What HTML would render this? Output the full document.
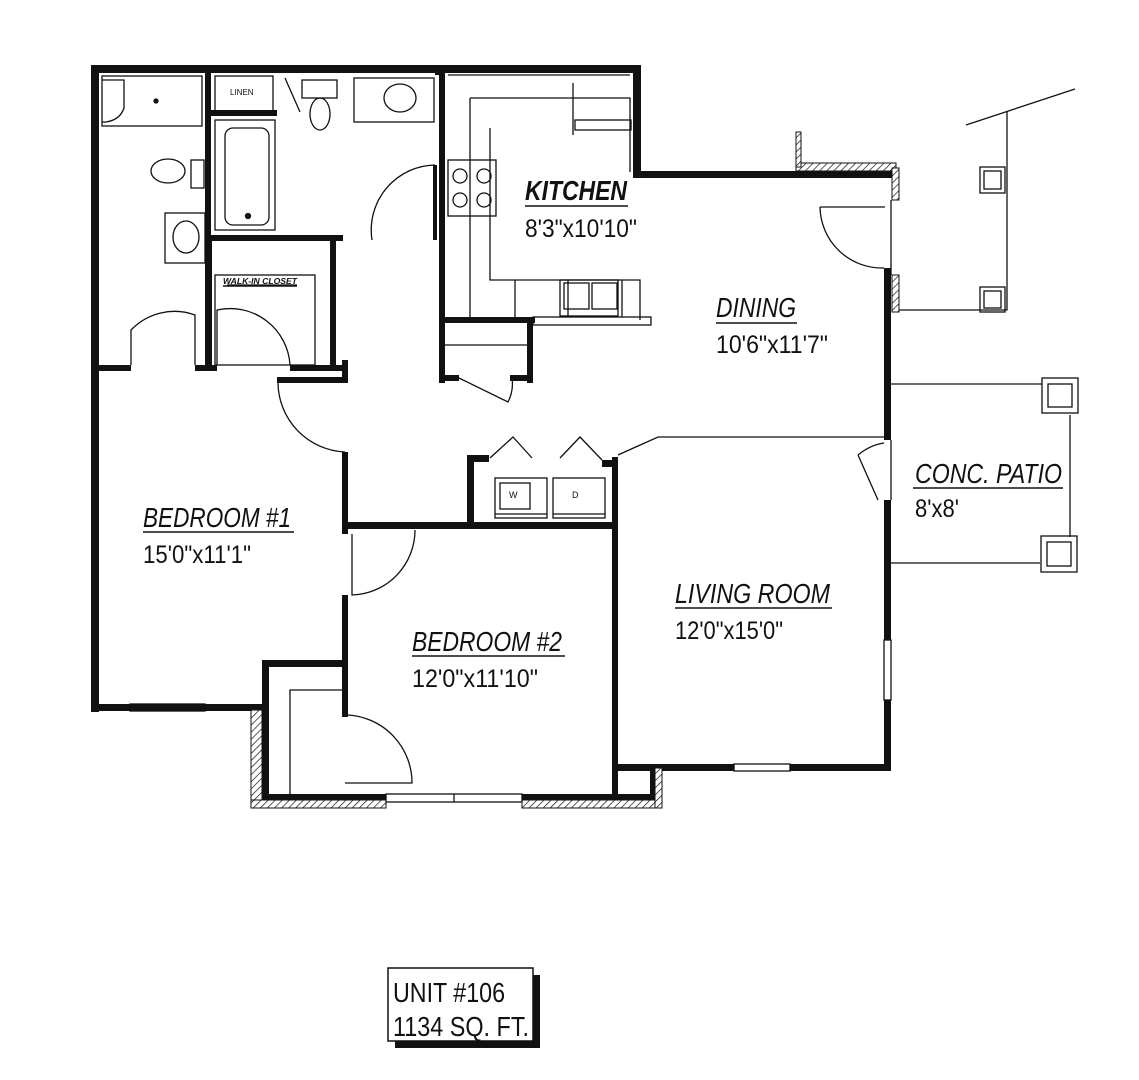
<!DOCTYPE html>
<html><head><meta charset="utf-8"><style>
html,body{margin:0;padding:0;background:#fff;}
svg{display:block}
text{font-family:"Liberation Sans",sans-serif;fill:#111}
</style></head><body>
<svg width="1139" height="1080" viewBox="0 0 1139 1080" xmlns="http://www.w3.org/2000/svg">
<defs>
<pattern id="h" width="5" height="5" patternUnits="userSpaceOnUse" patternTransform="rotate(45)"><rect width="5" height="5" fill="#fff"/><line x1="0" y1="0" x2="0" y2="5" stroke="#111" stroke-width="1.4"/></pattern>
</defs>
<g fill="#111">
<rect x="91" y="65" width="550" height="8"/>
<rect x="633" y="65" width="8" height="112"/>
<rect x="633" y="171" width="260" height="7"/>
<rect x="91" y="65" width="8" height="647"/>
<rect x="91" y="704" width="174" height="7"/>
<rect x="884" y="268" width="7" height="172"/>
<rect x="884" y="500" width="7" height="140"/>
<rect x="884" y="700" width="7" height="70"/>
<rect x="612" y="764" width="122" height="7"/>
<rect x="790" y="764" width="101" height="7"/>
<rect x="612" y="457" width="6" height="345"/>
<rect x="612" y="764" width="45" height="7"/>
<rect x="650" y="764" width="7" height="38"/>
<rect x="258" y="794" width="128" height="8"/>
<rect x="522" y="794" width="135" height="8"/>
<rect x="262" y="660" width="7" height="140"/>
<rect x="262" y="660" width="86" height="7"/>
<rect x="342" y="522" width="276" height="7"/>
<rect x="342" y="522" width="6" height="12"/>
<rect x="342" y="595" width="6" height="122"/>
<rect x="342" y="452" width="6" height="82"/>
<rect x="277" y="377" width="71" height="6"/>
<rect x="342" y="360" width="6" height="23"/>
<rect x="467" y="455" width="7" height="72"/>
<rect x="467" y="455" width="22" height="7"/>
<rect x="602" y="460" width="16" height="7"/>
<rect x="205" y="235" width="7" height="136"/>
<rect x="205" y="235" width="138" height="6"/>
<rect x="330" y="235" width="6" height="136"/>
<rect x="91" y="365" width="40" height="6"/>
<rect x="195" y="365" width="22" height="6"/>
<rect x="290" y="365" width="58" height="6"/>
<rect x="205" y="65" width="6" height="176"/>
<rect x="205" y="110" width="72" height="6"/>
<rect x="435" y="65" width="6" height="10"/>
<rect x="439" y="65" width="6" height="318"/>
<rect x="439" y="317" width="96" height="6"/>
<rect x="527" y="317" width="6" height="66"/>
<rect x="439" y="375" width="20" height="6"/>
<rect x="510" y="375" width="23" height="6"/>
<rect x="433" y="165" width="4" height="75"/>
</g>
<g fill="url(#h)" stroke="#111" stroke-width="1">
<rect x="251" y="710" width="11" height="92"/>
<rect x="251" y="800" width="135" height="8"/>
<rect x="522" y="800" width="140" height="8"/>
<rect x="655" y="768" width="7" height="40"/>
<rect x="796" y="163" width="100" height="8"/>
<rect x="796" y="132" width="5" height="35"/>
<rect x="892" y="168" width="7" height="32"/>
<rect x="892" y="275" width="7" height="37"/>
</g>
<g fill="none" stroke="#111" stroke-width="1.3">
<rect x="130" y="704" width="75" height="7"/>
<rect x="386" y="794" width="136" height="8"/><line x1="454" y1="794" x2="454" y2="802"/>
<rect x="734" y="764" width="56" height="7"/>
<rect x="884" y="640" width="7" height="60"/>
<rect x="102" y="76" width="100" height="50"/>
<path d="M102 80 H124 V108 Q120 120 106 122 H102"/>
<circle cx="156" cy="101" r="2" fill="#111"/>
<rect x="215" y="76" width="58" height="38"/>
<rect x="215" y="120" width="60" height="110"/>
<rect x="225" y="128" width="44" height="97" rx="8"/>
<circle cx="248" cy="216" r="2.5" fill="#111"/>
<ellipse cx="168" cy="171" rx="17" ry="12"/>
<rect x="191" y="160" width="13" height="28"/>
<rect x="165" y="213" width="40" height="50"/>
<ellipse cx="186" cy="237" rx="13" ry="16"/>
<ellipse cx="320" cy="114" rx="10" ry="16"/>
<rect x="302" y="80" width="35" height="18"/>
<line x1="285" y1="78" x2="300" y2="112"/>
<rect x="354" y="78" width="80" height="44"/>
<ellipse cx="400" cy="98" rx="16" ry="14"/>
<path d="M435 165 A65 65 0 0 0 372 240"/>
<path d="M131 365 V330 A60 60 0 0 1 195 315 V365"/>
<path d="M217 365 V310 A60 60 0 0 1 290 365"/>
<line x1="227" y1="285" x2="297" y2="285"/>
<rect x="215" y="275" width="100" height="90"/>
<path d="M278 383 A70 70 0 0 0 345 452"/>
<path d="M448 75 H630 M470 98 H630 V172 M490 128 V280 H640 V320"/>
<rect x="448" y="160" width="48" height="56"/>
<circle cx="460" cy="176" r="7"/><circle cx="484" cy="176" r="7"/>
<circle cx="460" cy="200" r="7"/><circle cx="484" cy="200" r="7"/>
<path d="M470 98 V317 M515 280 V317 M568 280 V317 M622 280 V317"/>
<rect x="560" y="280" width="58" height="36"/>
<rect x="564" y="283" width="25" height="26"/><rect x="592" y="283" width="25" height="26"/>
<rect x="533" y="317" width="118" height="8"/>
<line x1="573" y1="83" x2="573" y2="135"/>
<rect x="575" y="120" width="56" height="10"/>
<path d="M445 345 H530 M459 378 L508 402 A40 40 0 0 0 512 378"/>
<path d="M820 207 H885 M820 207 A62 62 0 0 0 884 268"/>
<line x1="891" y1="200" x2="891" y2="275"/>
<path d="M618 455 L658 437 H884"/>
<rect x="495" y="478" width="52" height="40"/><rect x="500" y="483" width="30" height="26"/>
<rect x="553" y="478" width="52" height="40"/>
<line x1="495" y1="514" x2="547" y2="514"/><line x1="553" y1="514" x2="605" y2="514"/>
<path d="M490 458 L513 437 L532 458 M560 458 L580 437 L602 460"/>
<path d="M352 534 V595 A65 65 0 0 0 415 530"/>
<path d="M290 795 V690 H342 M348 715 A68 68 0 0 1 412 783 H345"/>
<path d="M858 455 L878 500 M858 455 Q870 445 884 443"/>
<line x1="891" y1="440" x2="891" y2="500"/>
<path d="M966 125 L1075 89 M1007 111 V310 H899"/>
<rect x="980" y="167" width="25" height="26"/><rect x="984" y="171" width="17" height="18"/>
<rect x="980" y="287" width="25" height="25"/><rect x="984" y="291" width="17" height="17"/>
<path d="M891 384 H1042 M1070 415 V537 M891 563 H1040"/>
<rect x="1042" y="378" width="36" height="35"/><rect x="1048" y="384" width="24" height="23"/>
<rect x="1041" y="536" width="36" height="36"/><rect x="1047" y="542" width="24" height="24"/>
</g>
<g font-style="italic">
<text x="525" y="200" font-size="28" font-weight="bold" textLength="102" lengthAdjust="spacingAndGlyphs">KITCHEN</text>
<text x="716" y="317" font-size="28" textLength="80" lengthAdjust="spacingAndGlyphs">DINING</text>
<text x="143" y="527" font-size="28" textLength="148" lengthAdjust="spacingAndGlyphs">BEDROOM #1</text>
<text x="412" y="651" font-size="28" textLength="150" lengthAdjust="spacingAndGlyphs">BEDROOM #2</text>
<text x="675" y="603" font-size="28" textLength="155" lengthAdjust="spacingAndGlyphs">LIVING ROOM</text>
<text x="915" y="483" font-size="28" textLength="147" lengthAdjust="spacingAndGlyphs">CONC. PATIO</text>
<text x="223" y="284" font-size="8" font-weight="bold" textLength="74" lengthAdjust="spacingAndGlyphs">WALK-IN CLOSET</text>
</g>
<g font-size="25">
<text x="525" y="237" textLength="112" lengthAdjust="spacingAndGlyphs">8'3"x10'10"</text>
<text x="716" y="353" textLength="112" lengthAdjust="spacingAndGlyphs">10'6"x11'7"</text>
<text x="143" y="563" textLength="108" lengthAdjust="spacingAndGlyphs">15'0"x11'1"</text>
<text x="412" y="687" textLength="126" lengthAdjust="spacingAndGlyphs">12'0"x11'10"</text>
<text x="675" y="639" textLength="108" lengthAdjust="spacingAndGlyphs">12'0"x15'0"</text>
<text x="915" y="517" textLength="44" lengthAdjust="spacingAndGlyphs">8'x8'</text>
</g>
<text x="230" y="95" font-size="8">LINEN</text>
<text x="509" y="498" font-size="9">W</text>
<text x="572" y="498" font-size="9">D</text>
<g stroke="#111" stroke-width="1.5">
<line x1="525" y1="206" x2="628" y2="206"/>
<line x1="716" y1="323" x2="797" y2="323"/>
<line x1="143" y1="532" x2="294" y2="532"/>
<line x1="412" y1="656" x2="565" y2="656"/>
<line x1="675" y1="608" x2="832" y2="608"/>
<line x1="913" y1="488" x2="1063" y2="488"/>
<line x1="223" y1="286" x2="297" y2="286"/>
</g>
<rect x="395" y="975" width="145" height="73" fill="#111"/>
<rect x="388" y="968" width="145" height="73" fill="#fff" stroke="#111" stroke-width="1.5"/>
<text x="393" y="1002" font-size="28" textLength="112" lengthAdjust="spacingAndGlyphs">UNIT #106</text>
<text x="393" y="1036" font-size="28" textLength="136" lengthAdjust="spacingAndGlyphs">1134 SQ. FT.</text>
</svg>
</body></html>
